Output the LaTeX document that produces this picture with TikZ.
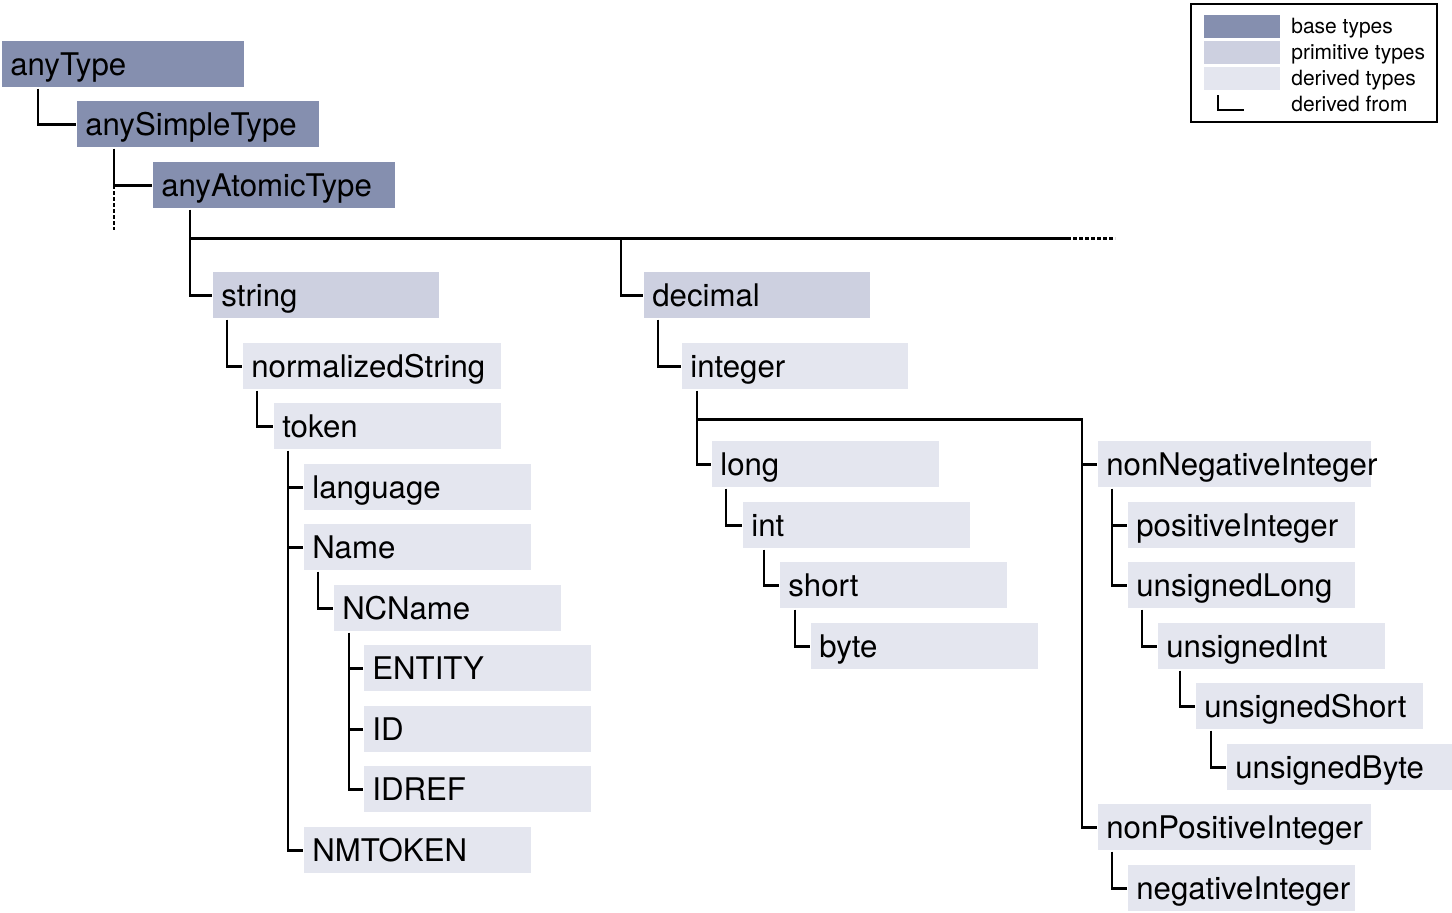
\documentclass[tikz,border=0pt]{standalone}
\usepackage{fontspec}
\setmainfont{TeX Gyre Heros}
\definecolor{baseC}{RGB}{133,143,175}
\definecolor{primC}{RGB}{205,208,224}
\definecolor{derC}{RGB}{228,230,239}
\begin{document}
\begin{tikzpicture}[x=1pt,y=-1pt,line width=2.7pt,
  tbox/.style={anchor=north west,inner xsep=8pt,inner ysep=0pt,
    minimum height=46pt,text height=22pt,text depth=0pt,align=left,
    font=\fontsize{31.2}{33}\selectfont,text width=#1pt},
  base/.style={tbox=#1,fill=baseC},
  prim/.style={tbox=#1,fill=primC},
  deriv/.style={tbox=#1,fill=derC},
  swatch/.style={anchor=north west,inner sep=0pt,minimum width=76pt,minimum height=23pt},
  legtext/.style={anchor=base west,inner sep=0pt,font=\fontsize{21}{24}\selectfont},
  ellipsis/.style={dash pattern=on 3.5pt off 2.5pt}]
\useasboundingbox (0,0) rectangle (1452,913);

% ---- type boxes ----
\node[base=226]  (anyType)        at (1,40)    {anyType};
\node[base=226]  (anySimpleType)  at (76,100)  {anySimpleType};
\node[base=226]  (anyAtomicType)  at (152,161) {anyAtomicType};
\node[prim=210]  (string)         at (212,271) {string};
\node[prim=210]  (decimal)        at (643,271) {decimal};
\node[deriv=242] (normalizedString) at (242,342) {normalizedString};
\node[deriv=211] (token)          at (273,402) {token};
\node[deriv=211] (language)       at (303,463) {language};
\node[deriv=211] (Name)           at (303,523) {Name};
\node[deriv=211] (NCName)         at (333,584) {NCName};
\node[deriv=211] (ENTITY)         at (363,644) {ENTITY};
\node[deriv=211] (ID)             at (363,705) {ID};
\node[deriv=211] (IDREF)          at (363,765) {IDREF};
\node[deriv=211] (NMTOKEN)        at (303,826) {NMTOKEN};
\node[deriv=210] (integer)        at (681,342) {integer};
\node[deriv=211] (long)           at (711,440) {long};
\node[deriv=211] (int)            at (742,501) {int};
\node[deriv=211] (short)          at (779,561) {short};
\node[deriv=211] (byte)           at (810,622) {byte};
\node[deriv=257] (nonNegativeInteger) at (1097,440) {nonNegativeInteger};
\node[deriv=211] (positiveInteger)    at (1127,501) {positiveInteger};
\node[deriv=211] (unsignedLong)       at (1127,561) {unsignedLong};
\node[deriv=211] (unsignedInt)        at (1157,622) {unsignedInt};
\node[deriv=211] (unsignedShort)      at (1195,682) {unsignedShort};
\node[deriv=210] (unsignedByte)       at (1226,743) {unsignedByte};
\node[deriv=257] (nonPositiveInteger) at (1097,803) {nonPositiveInteger};
\node[deriv=211] (negativeInteger)    at (1127,864) {negativeInteger};

% ---- derivation connectors ----
\draw (anyType.south west) ++(37,0) |- (anySimpleType.west);
\draw (anySimpleType.south west) ++(38,0) coordinate (simpleStem) |- (anyAtomicType.west);
\draw[ellipsis] (simpleStem |- anyAtomicType.west) -- ++(0,45);
\draw (anyAtomicType.south west) ++(38,0) |- (string.west);
\draw (anyAtomicType.south west) ++(38,29) coordinate (bus) -- ++(881,0) coordinate (busEnd);
\draw[ellipsis] (busEnd) ++(2,0) -- ++(42,0);
\path (decimal.west) ++(-22,0) coordinate (decStem);
\draw (decStem |- bus) -- (decStem) -- (decimal.west);

\draw (string.south west) ++(15,0) |- (normalizedString.west);
\draw (normalizedString.south west) ++(15,0) |- (token.west);
\draw (token.south west) ++(15,0) coordinate (tokStem) |- (NMTOKEN.west);
\draw (language.west) -- (language.west -| tokStem);
\draw (Name.west) -- (Name.west -| tokStem);
\draw (Name.south west) ++(15,0) |- (NCName.west);
\draw (NCName.south west) ++(16,0) coordinate (ncStem) |- (IDREF.west);
\draw (ENTITY.west) -- (ENTITY.west -| ncStem);
\draw (ID.west) -- (ID.west -| ncStem);

\draw (decimal.south west) ++(15,0) |- (integer.west);
\draw (integer.south west) ++(16,0) coordinate (intStem) |- (long.west);
\path (nonNegativeInteger.west) ++(-15,0) coordinate (nnStem);
\draw (intStem) ++(0,29) -| (nnStem |- nonPositiveInteger.west) -- (nonPositiveInteger.west);
\draw (nonNegativeInteger.west) -- (nnStem);
\draw (long.south west) ++(15,0) |- (int.west);
\draw (int.south west) ++(22,0) |- (short.west);
\draw (short.south west) ++(16,0) |- (byte.west);

\draw (nonNegativeInteger.south west) ++(15,0) coordinate (nnnStem) |- (unsignedLong.west);
\draw (positiveInteger.west) -- (positiveInteger.west -| nnnStem);
\draw (unsignedLong.south west) ++(15,0) |- (unsignedInt.west);
\draw (unsignedInt.south west) ++(23,0) |- (unsignedShort.west);
\draw (unsignedShort.south west) ++(16,0) |- (unsignedByte.west);
\draw (nonPositiveInteger.south west) ++(15,0) |- (negativeInteger.west);

% ---- legend ----
\draw (1191,4) rectangle (1437,122);
\node[swatch,fill=baseC] (lgBase)  at (1203,14) {};
\node[swatch,fill=primC] (lgPrim)  at (1203,40) {};
\node[swatch,fill=derC]  (lgDer)   at (1203,66) {};
\coordinate (lgCorner) at (1218,110);
\draw (lgCorner) ++(0,-15) -- (lgCorner) -- ++(26,0);
\node[legtext] (lgTxtBase) at (1290,33)  {base types};
\node[legtext] (lgTxtPrim) at (1290,59)  {primitive types};
\node[legtext] (lgTxtDer)  at (1290,85)  {derived types};
\node[legtext] (lgTxtFrom) at (1290,111) {derived from};
\end{tikzpicture}
\end{document}
